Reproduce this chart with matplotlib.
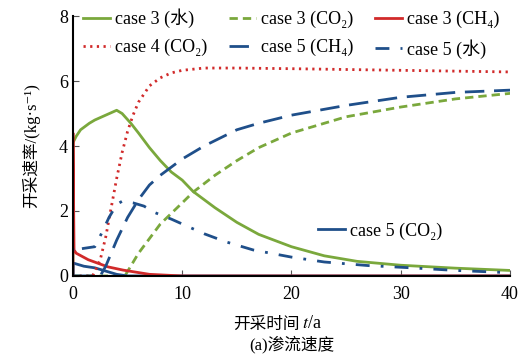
import matplotlib
matplotlib.use("Agg")
import matplotlib.pyplot as plt

plt.rcParams['font.family'] = ['Liberation Serif', 'Noto Sans CJK SC', 'DejaVu Sans']
plt.rcParams['mathtext.fontset'] = 'stix'

# case 3 (water)
t_c3_w = [0, 0, 0.3, 0.7, 1.5, 2, 3, 4, 4.5, 5.3, 6, 7, 8, 9, 10, 11, 13, 15, 17, 20, 23, 26, 30, 35, 40]
q_c3_w = [0, 4.1, 4.3, 4.5, 4.7, 4.8, 4.95, 5.1, 5.0, 4.7, 4.4, 3.95, 3.55, 3.2, 2.95, 2.6, 2.1, 1.65, 1.28, 0.9, 0.62, 0.45, 0.33, 0.24, 0.17]
# case 3 (CO2)
t_c3_co2 = [0, 4.75, 6, 8, 10, 11, 13, 15, 17, 20, 25, 30, 35, 40]
q_c3_co2 = [0, 0, 0.7, 1.6, 2.25, 2.58, 3.1, 3.55, 3.95, 4.4, 4.9, 5.2, 5.45, 5.62]
# case 3 (CH4)
t_c3_ch4 = [0, 0, 0.1, 0.3, 1.4, 3.2, 4.6, 7, 10, 40]
q_c3_ch4 = [0, 4.4, 0.8, 0.7, 0.5, 0.28, 0.18, 0.05, 0.0, 0.0]
# case 4 (CO2)
t_c4_co2 = [0, 1.8, 2.5, 3, 3.5, 4, 4.5, 5, 5.5, 6, 7, 8, 9, 10, 12, 15, 20, 30, 40]
q_c4_co2 = [0, 0, 0.5, 1.2, 2.1, 3.0, 3.8, 4.45, 4.95, 5.35, 5.85, 6.1, 6.25, 6.33, 6.4, 6.4, 6.38, 6.33, 6.28]
# case 5 (CH4)
t_c5_ch4 = [0, 2.5, 3, 4, 5, 6, 7, 8, 9, 10, 12, 15, 17, 20, 25, 30, 35, 40]
q_c5_ch4 = [0, 0, 0.3, 1.1, 1.8, 2.35, 2.8, 3.1, 3.35, 3.6, 4.0, 4.5, 4.7, 4.95, 5.25, 5.5, 5.65, 5.72]
# case 5 (water)
t_c5_w = [0, 0, 0.5, 1, 2, 2.6, 3.3, 4, 4.5, 5.5, 6.5, 7.5, 9, 10, 12, 14, 16.5, 20, 23, 27, 31, 35, 40]
q_c5_w = [0, 0.9, 0.82, 0.85, 0.9, 1.3, 1.8, 2.2, 2.3, 2.25, 2.15, 1.95, 1.75, 1.6, 1.3, 1.05, 0.8, 0.58, 0.43, 0.32, 0.25, 0.17, 0.1]
# case 5 (CO2)
t_c5_co2 = [0, 0, 1, 2, 3, 4, 5, 40]
q_c5_co2 = [0, 0.4, 0.3, 0.25, 0.15, 0.05, 0.0, 0.0]

green = '#7aa83c'
red = '#d12a2a'
blue = '#1f4f8a'

fig = plt.figure(figsize=(5.21, 3.57), dpi=100)
ax = fig.add_axes([0.140, 0.227, 0.839, 0.728])

l1, = ax.plot(t_c3_w, q_c3_w, color=green, lw=2, label='case 3 (水)')
l2, = ax.plot(t_c3_co2, q_c3_co2, color=green, lw=2, ls=(0, (3, 1.8)), label='case 3 (CO₂)')
l7, = ax.plot(t_c5_co2, q_c5_co2, color=blue, lw=2, label='case 5 (CO₂)')
l3, = ax.plot(t_c3_ch4, q_c3_ch4, color=red, lw=2, label='case 3 (CH₄)')
l4, = ax.plot(t_c4_co2, q_c4_co2, color=red, lw=2, ls=(0, (0.8, 1.6)), label='case 4 (CO₂)')
l5, = ax.plot(t_c5_ch4, q_c5_ch4, color=blue, lw=2, ls=(0, (7, 3.5)), label='case 5 (CH₄)')
l6, = ax.plot(t_c5_w, q_c5_w, color=blue, lw=2, ls=(0, (5, 4, 1, 4)), label='case 5 (水)')

ax.set_xlim(0, 40)
ax.set_ylim(0, 8)
ax.set_xticks([0, 10, 20, 30, 40])
ax.set_yticks([0, 2, 4, 6, 8])
for s in ['top', 'right']:
    ax.spines[s].set_visible(False)
ax.spines['left'].set_linewidth(1.5)
ax.spines['bottom'].set_linewidth(1.5)
ax.tick_params(direction='in', length=4, labelsize=13, color='#555555')
ax.tick_params(axis='x', pad=7)

ax.set_ylabel('开采速率/(kg·s⁻¹)', fontsize=12, labelpad=14)
# x label: chinese part + italic t
fig.text(0.575, 0.08, '开采时间', fontsize=12, ha='right', va='baseline')
fig.text(0.58, 0.08, '$t$/a', fontsize=13, ha='left', va='baseline')
fig.text(0.56, 0.01, '(a)渗流速度', fontsize=12, ha='center', va='bottom')

# row-major order for 3 columns
leg = ax.legend(handles=[l1, l4, l2, l5, l3, l6], ncol=3, loc='upper left',
                bbox_to_anchor=(-0.014, 1.092), frameon=False, fontsize=13,
                handlelength=1.5, columnspacing=1.2, handletextpad=0.28, labelspacing=0.6)
ax.add_artist(leg)
ax.legend(handles=[l7], loc='center left', bbox_to_anchor=(0.523, 0.173), frameon=False,
          fontsize=13, handlelength=1.5, handletextpad=0.28)

fig.savefig('out.png', dpi=100)
